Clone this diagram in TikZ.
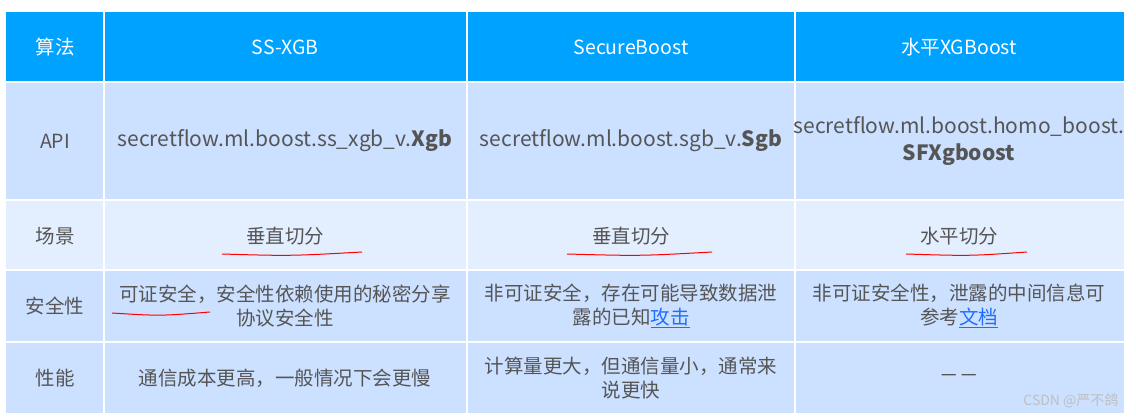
\documentclass[tikz,border=0pt]{standalone}
\usepackage{fontspec}
\setmainfont{Noto Sans CJK SC}
\definecolor{hdr}{HTML}{00A2FF}
\definecolor{rowa}{HTML}{CCE0FF}
\definecolor{rowb}{HTML}{E3EEFF}
\definecolor{txt}{HTML}{555555}
\definecolor{lnk}{HTML}{1E6FFF}
\tikzset{cell/.style={text=txt,font=\fontsize{19.5}{24}\selectfont,align=center},
hcell/.style={cell,text=white},
ul/.style={red,line width=1pt}}
\newcommand{\lnkt}[1]{\textcolor{lnk}{\underline{#1}}}
\begin{document}
\begin{tikzpicture}[x=1pt,y=-1pt]
\useasboundingbox (0,0) rectangle (1136,418);
\fill[white] (0,0) rectangle (1136,418);
\fill[hdr] (6,12) rectangle (1124,82);
\fill[rowa] (6,82) rectangle (1124,200);
\fill[rowb] (6,200) rectangle (1124,270);
\fill[rowa] (6,270) rectangle (1124,342);
\fill[rowa] (6,342) rectangle (1124,413);
\foreach \y in {82,200,270,342} \draw[white,line width=1.5pt] (6,\y) -- (1124,\y);
\foreach \x in {104,467,795} \draw[white,line width=1.5pt] (\x,12) -- (\x,413);
% header
\node[hcell] (h0) at (55,47) {算法};
\node[hcell] (h1) at (285,47) {SS-XGB};
\node[hcell] (h2) at (631,47) {SecureBoost};
\node[hcell] (h3) at (959,47) {水平XGBoost};
% API
\node[cell] (a0) at (55,141) {API};
\node[cell,font=\fontsize{21}{27}\selectfont] (a1) at (285,141) {secretflow.ml.boost.ss\_xgb\_v.\textbf{Xgb}};
\node[cell,font=\fontsize{21}{27}\selectfont] (a2) at (631,141) {secretflow.ml.boost.sgb\_v.\textbf{Sgb}};
\node[cell,font=\fontsize{21}{27}\selectfont] (a3) at (959,141) {secretflow.ml.boost.homo\_boost.\\\textbf{SFXgboost}};
% scene
\node[cell] (s0) at (55,236) {场景};
\node[cell] (s1) at (285,236) {垂直切分};
\node[cell] (s2) at (631,236) {垂直切分};
\node[cell] (s3) at (959,236) {水平切分};
\draw[ul] (222,254) .. controls (290,256) .. (362,252);
\draw[ul] (567,254) .. controls (640,256) .. (712,252);
\draw[ul] (906,254) .. controls (970,256) .. (1027,252);
% security
\node[cell] (c0) at (55,306) {安全性};
\node[cell] (c1) at (285,306) {可证安全，安全性依赖使用的秘密分享\\协议安全性};
\node[cell] (c2) at (631,306) {非可证安全，存在可能导致数据泄\\露的已知\lnkt{攻击}};
\node[cell] (c3) at (959,306) {非可证安全性，泄露的中间信息可\\参考\lnkt{文档}};
\draw[ul] (112,313) .. controls (160,316) .. (210,312);
% perf
\node[cell] (p0) at (55,378) {性能};
\node[cell] (p1) at (285,378) {通信成本更高，一般情况下会更慢};
\node[cell] (p2) at (631,378) {计算量更大，但通信量小，通常来\\说更快};
\node[cell] (p3) at (959,378) {－－};
\node[text=white!75!black,font=\fontsize{14}{16}\selectfont,anchor=east] (wm) at (1122,401) {CSDN @严不鸽};
\end{tikzpicture}
\end{document}
